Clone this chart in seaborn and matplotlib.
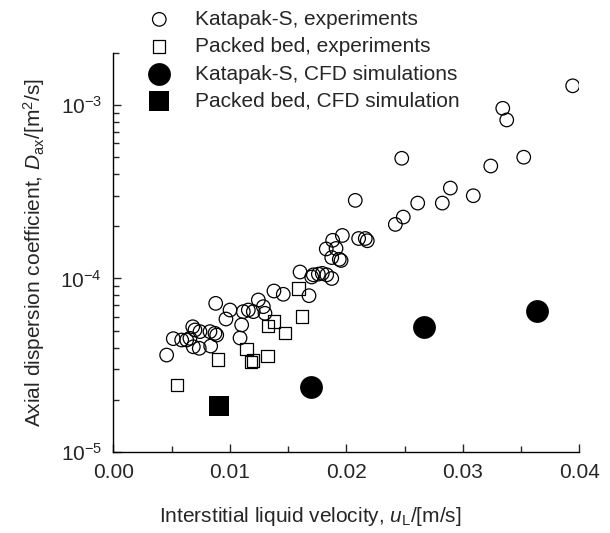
import matplotlib
matplotlib.use("Agg")
import matplotlib.pyplot as plt
import matplotlib.ticker as mticker
import numpy as np
import seaborn as sns

# Katapak-S, experiments
kat_u = [0.00458, 0.00515, 0.00587, 0.00630, 0.00658, 0.00682, 0.00701, 0.00744,
         0.00687, 0.00738, 0.00830, 0.00873, 0.00888, 0.00836, 0.00879, 0.00967,
         0.01002, 0.01102, 0.01088, 0.01116, 0.01159, 0.01202, 0.01245, 0.01288,
         0.01302, 0.01379, 0.01459, 0.01680, 0.01603, 0.01703, 0.01717, 0.01760,
         0.01794, 0.01832, 0.01875, 0.01828, 0.01912, 0.01875, 0.01940, 0.01955,
         0.01883, 0.01966, 0.02106, 0.02163, 0.02180, 0.02077, 0.02421, 0.02489,
         0.02613, 0.02824, 0.02893, 0.03090, 0.02476, 0.03240, 0.03523, 0.03343,
         0.03377, 0.03943]
kat_D = [3.62e-5, 4.50e-5, 4.42e-5, 4.42e-5, 4.52e-5, 5.27e-5, 5.05e-5, 4.94e-5,
         4.04e-5, 3.96e-5, 4.94e-5, 4.83e-5, 4.72e-5, 4.08e-5, 7.19e-5, 5.84e-5,
         6.58e-5, 5.40e-5, 4.54e-5, 6.44e-5, 6.58e-5, 6.44e-5, 7.52e-5, 6.88e-5,
         6.30e-5, 8.47e-5, 8.11e-5, 7.96e-5, 1.09e-4, 1.02e-4, 1.05e-4, 1.06e-4,
         1.07e-4, 1.05e-4, 1.00e-4, 1.48e-4, 1.49e-4, 1.32e-4, 1.29e-4, 1.27e-4,
         1.66e-4, 1.77e-4, 1.70e-4, 1.70e-4, 1.65e-4, 2.82e-4, 2.05e-4, 2.26e-4,
         2.72e-4, 2.72e-4, 3.32e-4, 3.00e-4, 4.93e-4, 4.45e-4, 5.00e-4, 9.57e-4,
         8.20e-4, 1.29e-3]

# Packed bed, experiments
bed_u = [0.00901, 0.00549, 0.01145, 0.01182, 0.01199, 0.01325, 0.01330, 0.01379,
         0.01474, 0.01620, 0.01588]
bed_D = [3.42e-5, 2.43e-5, 3.91e-5, 3.31e-5, 3.36e-5, 3.58e-5, 5.32e-5, 5.64e-5,
         4.85e-5, 6.05e-5, 8.75e-5]

# Katapak-S, CFD simulations
cfd_kat_u = [0.01698, 0.02667, 0.03634]
cfd_kat_D = [2.38e-5, 5.25e-5, 6.52e-5]

# Packed bed, CFD simulation
cfd_bed_u = [0.0091]
cfd_bed_D = [1.84e-5]

sns.set_style("ticks")
plt.rcParams['font.family'] = ['Liberation Sans', 'DejaVu Sans']
plt.rcParams['mathtext.fontset'] = 'custom'
plt.rcParams['mathtext.rm'] = 'Liberation Sans'
plt.rcParams['mathtext.it'] = 'Liberation Sans:italic'
plt.rcParams['font.size'] = 15

fig = plt.figure(figsize=(6.1, 5.33), dpi=100)
ax = fig.add_axes([0.1857, 0.152, 0.764, 0.749])

sns.scatterplot(x=kat_u, y=kat_D, ax=ax, marker='o', s=95, facecolor='none',
                edgecolor='black', linewidth=0.9, label='Katapak-S, experiments')
sns.scatterplot(x=bed_u, y=bed_D, ax=ax, marker='s', s=80, facecolor='none',
                edgecolor='black', linewidth=0.9, label='Packed bed, experiments')
sns.scatterplot(x=cfd_kat_u, y=cfd_kat_D, ax=ax, marker='o', s=270, color='black',
                edgecolor='black', linewidth=0, label='Katapak-S, CFD simulations')
sns.scatterplot(x=cfd_bed_u, y=cfd_bed_D, ax=ax, marker='s', s=200, color='black',
                edgecolor='black', linewidth=0, label='Packed bed, CFD simulation')

ax.set_yscale('log')
ax.set_xlim(0, 0.04)
ax.set_ylim(1e-5, 2e-3)
ax.xaxis.set_major_locator(mticker.MultipleLocator(0.01))
ax.xaxis.set_minor_locator(mticker.MultipleLocator(0.005))
ax.xaxis.set_major_formatter(mticker.FormatStrFormatter('%.2f'))
ax.yaxis.set_major_locator(mticker.LogLocator(base=10, numticks=10))
ax.yaxis.set_minor_locator(mticker.LogLocator(base=10, subs=np.arange(2, 10), numticks=20))
ax.yaxis.set_minor_formatter(mticker.NullFormatter())
ax.tick_params(which='major', direction='in', length=6, width=1, labelsize=15, pad=8)
ax.tick_params(which='minor', direction='in', length=4, width=1)
for side in ['top', 'right']:
    ax.spines[side].set_visible(False)
for side in ['left', 'bottom']:
    ax.spines[side].set_linewidth(1)
    ax.spines[side].set_color('black')

ax.set_xlabel('Interstitial liquid velocity, $\\mathit{u}_{\\mathrm{L}}$/[m/s]', fontsize=15)
ax.xaxis.set_label_coords(0.422, -0.133)
ax.set_ylabel('Axial dispersion coefficient, $\\mathit{D}_{\\mathrm{ax}}$/[m$^2$/s]', fontsize=15, labelpad=10)

ax.get_legend().remove()
handles, labels = ax.get_legend_handles_labels()
fig.legend(handles, labels, loc='upper left', bbox_to_anchor=(0.215, 1.005),
           frameon=False, handlelength=1.5, handletextpad=0.95, labelspacing=0.4,
           fontsize=15, borderaxespad=0.2)

fig.savefig('out.png', dpi=100)
